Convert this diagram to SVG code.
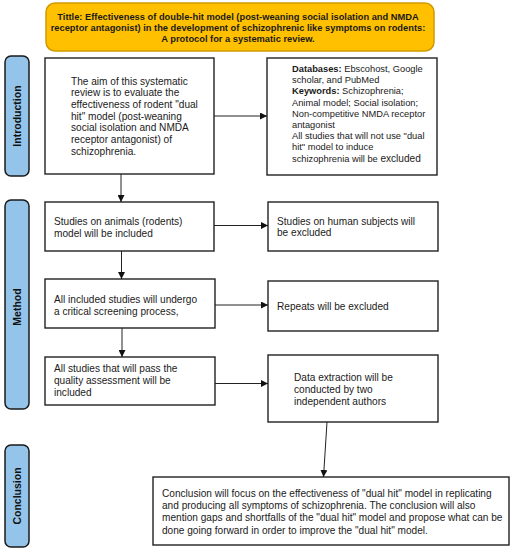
<svg xmlns="http://www.w3.org/2000/svg" width="526" height="550" viewBox="0 0 526 550">
<defs>
<marker id="ah" viewBox="0 0 10 10" refX="10" refY="5" markerWidth="7" markerHeight="7" markerUnits="userSpaceOnUse" orient="auto">
<path d="M0,0 L10,5 L0,10 z" fill="#111"/>
</marker>
<style>
.box{fill:#fff;stroke:#222;stroke-width:1.4}
.lbl{fill:#94C4EA;stroke:#1a1a1a;stroke-width:1.5}
.t{font-family:"Liberation Sans",Arial,sans-serif;font-size:10.1px;fill:#1a1a1a}
.ts{font-family:"Liberation Sans",Arial,sans-serif;font-size:9.3px;fill:#1a1a1a}
.tb{font-family:"Liberation Sans",Arial,sans-serif;font-size:9.3px;font-weight:bold;fill:#1a1a1a}
.vl{font-family:"Liberation Sans",Arial,sans-serif;font-size:10.5px;font-weight:bold;fill:#111;text-anchor:middle}
.c{fill:none;stroke:#222;stroke-width:1;marker-end:url(#ah)}
</style>
</defs>
<rect width="526" height="550" fill="#fff"/>
<g id="title">
<rect x="46" y="3" width="388" height="48" rx="9" fill="#FFC000" stroke="#D19A00" stroke-width="1.5"/>
<text class="tb" text-anchor="middle"><tspan x="238" y="19.5">Tittle: Effectiveness of double-hit model (post-weaning social isolation and NMDA</tspan><tspan x="238" y="30.8">receptor antagonist) in the development of schizophrenic like symptoms on rodents:</tspan><tspan x="238" y="41.8">A protocol for a systematic review.</tspan></text>
</g>
<g id="label-introduction">
<rect class="lbl" x="5" y="56" width="24" height="120" rx="6"/>
<text class="vl" transform="translate(21,116) rotate(-90)">Introduction</text>
</g>
<g id="label-method">
<rect class="lbl" x="5" y="200" width="24" height="209" rx="6"/>
<text class="vl" transform="translate(21,307) rotate(-90)">Method</text>
</g>
<g id="label-conclusion">
<rect class="lbl" x="5" y="445" width="24" height="102" rx="6"/>
<text class="vl" transform="translate(21,496) rotate(-90)">Conclusion</text>
</g>
<g id="aim">
<rect class="box" x="45" y="58" width="169" height="116"/>
<text class="t"><tspan x="71" y="84.5">The aim of this systematic</tspan><tspan x="71" y="96.2">review is to evaluate the</tspan><tspan x="71" y="107.9">effectiveness of rodent "dual</tspan><tspan x="71" y="119.6">hit" model (post-weaning</tspan><tspan x="71" y="131.3">social isolation and NMDA</tspan><tspan x="71" y="143">receptor antagonist) of</tspan><tspan x="71" y="155">schizophrenia.</tspan></text>
</g>
<g id="search">
<rect class="box" x="267" y="58" width="170" height="117"/>
<text class="ts"><tspan x="292" y="72"><tspan font-weight="bold">Databases:</tspan> Ebscohost, Google</tspan><tspan x="292" y="83.2">scholar, and PubMed</tspan><tspan x="292" y="94.4"><tspan font-weight="bold">Keywords:</tspan> Schizophrenia;</tspan><tspan x="292" y="105.6">Animal model; Social isolation;</tspan><tspan x="292" y="116.8">Non-competitive NMDA receptor</tspan><tspan x="292" y="128">antagonist</tspan><tspan x="292" y="139.2">All studies that will not use "dual</tspan><tspan x="292" y="150.4">hit" model to induce</tspan><tspan x="292" y="161.6">schizophrenia will be <tspan font-size="10.1px">excluded</tspan></tspan></text>
</g>
<g id="animals">
<rect class="box" x="45" y="202" width="169" height="49"/>
<text class="t"><tspan x="54" y="225">Studies on animals (rodents)</tspan><tspan x="54" y="236.7">model will be included</tspan></text>
</g>
<g id="human">
<rect class="box" x="268" y="202" width="170" height="49"/>
<text class="t"><tspan x="277" y="224.5">Studies on human subjects will</tspan><tspan x="277" y="236.2">be excluded</tspan></text>
</g>
<g id="screening">
<rect class="box" x="45" y="279" width="170" height="49"/>
<text class="t"><tspan x="54" y="302.5">All included studies will undergo</tspan><tspan x="54" y="315">a critical screening process,</tspan></text>
</g>
<g id="repeats">
<rect class="box" x="268" y="281" width="170" height="50"/>
<text class="t"><tspan x="277" y="309.5">Repeats will be excluded</tspan></text>
</g>
<g id="quality">
<rect class="box" x="45" y="357" width="170" height="48"/>
<text class="t"><tspan x="54" y="371.5">All studies that will pass the</tspan><tspan x="54" y="383.5">quality assessment will be</tspan><tspan x="54" y="395.5">included</tspan></text>
</g>
<g id="extraction">
<rect class="box" x="268" y="355" width="170" height="67"/>
<text class="t"><tspan x="294" y="380.5">Data extraction will be</tspan><tspan x="294" y="392.5">conducted by two</tspan><tspan x="294" y="405">independent authors</tspan></text>
</g>
<g id="conclusion">
<rect class="box" x="153" y="477" width="356" height="68"/>
<text class="t"><tspan x="162" y="496.8">Conclusion will focus on the effectiveness of "dual hit" model in replicating</tspan><tspan x="162" y="509.3">and producing all symptoms of schizophrenia. The conclusion will also</tspan><tspan x="162" y="521.2">mention gaps and shortfalls of the "dual hit" model and propose what can be</tspan><tspan x="162" y="533.6">done going forward in order to improve the "dual hit" model.</tspan></text>
</g>
<g id="connectors">
<path class="c" d="M214,116 H267"/>
<path class="c" d="M121,174 V202"/>
<path class="c" d="M121.5,251 V279"/>
<path class="c" d="M122,328 V357"/>
<path class="c" d="M214,225.5 H268"/>
<path class="c" d="M215,305 H268"/>
<path class="c" d="M215,383.5 H268"/>
<path class="c" d="M327,422 L323.5,477"/>
</g>
</svg>
